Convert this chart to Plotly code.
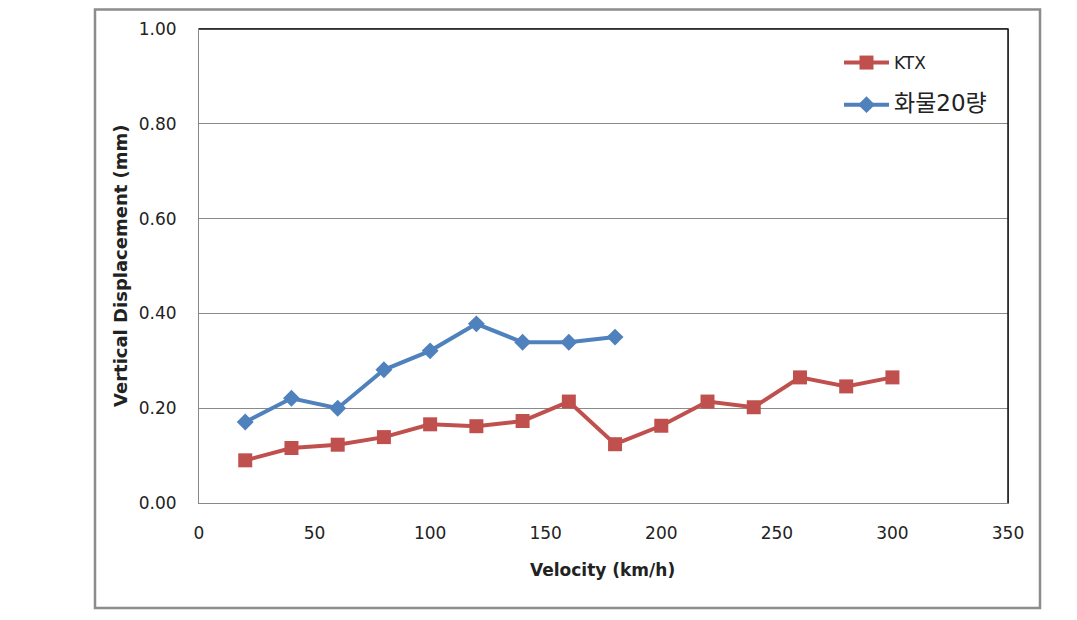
import plotly.graph_objects as go

velocity_ktx = [20, 40, 60, 80, 100, 120, 140, 160, 180, 200, 220, 240, 260, 280, 300]
disp_ktx = [0.090, 0.116, 0.123, 0.139, 0.166, 0.162, 0.173, 0.214, 0.124, 0.163, 0.214, 0.202, 0.265, 0.246, 0.265]

velocity_freight = [20, 40, 60, 80, 100, 120, 140, 160, 180]
disp_freight = [0.171, 0.221, 0.200, 0.281, 0.321, 0.378, 0.339, 0.339, 0.350]

x_ticks = [0, 50, 100, 150, 200, 250, 300, 350]
y_ticks = [0.0, 0.2, 0.4, 0.6, 0.8, 1.0]
y_tick_labels = ["0.00", "0.20", "0.40", "0.60", "0.80", "1.00"]

FONT = "DejaVu Sans, Noto Sans CJK KR, sans-serif"
RED = "#C0504D"
BLUE = "#4F81BD"

fig = go.Figure()
fig.add_trace(go.Scatter(
    x=velocity_ktx, y=disp_ktx, mode="lines+markers", name="KTX",
    legendgroup="a",
    line=dict(color=RED, width=4),
    marker=dict(symbol="square", size=14, color=RED),
))
fig.add_trace(go.Scatter(
    x=velocity_freight, y=disp_freight, mode="lines+markers",
    name='<span style="font-size:23px">화물20량</span>',
    legendgroup="b",
    line=dict(color=BLUE, width=4),
    marker=dict(symbol="diamond", size=13, color=BLUE),
))

OFF = 8  # page body margin
W, H = 1077, 620
PL, PR, PT, PB = 199, 1008, 29, 503  # plot area in page pixels
L = PL - OFF
T = PT - OFF
R = W - (PR - OFF)
B = H - (PB - OFF)
pw = PR - PL
ph = PB - PT

def px(xp):
    return (xp - PL) / pw

def py(yp):
    return (PB - yp) / ph

fig.update_layout(
    width=W, height=H,
    margin=dict(l=L, r=R, t=T, b=B, autoexpand=False),
    paper_bgcolor="white", plot_bgcolor="white",
    font=dict(family=FONT, color="#222"),
    showlegend=True,
    legend=dict(
        x=px(839), y=py(45), xanchor="left", yanchor="top",
        bgcolor="rgba(0,0,0,0)", font=dict(size=17, family=FONT, color="#222"),
        traceorder="grouped", tracegroupgap=17, itemwidth=45,
    ),
    xaxis=dict(
        range=[0, 350], tickvals=x_ticks, ticktext=[str(v) for v in x_ticks],
        showgrid=False, zeroline=False,
        showline=True, linecolor="#888", linewidth=1, mirror=True,
        ticks="outside", ticklen=15, tickcolor="rgba(0,0,0,0)",
        tickfont=dict(size=17, family=FONT, color="#222"),
    ),
    yaxis=dict(
        range=[0, 1.0], tickvals=y_ticks, ticktext=y_tick_labels,
        showgrid=True, gridcolor="#8a8a8a", gridwidth=1, zeroline=False,
        showline=True, linecolor="#888", linewidth=1, mirror=True,
        ticks="outside", ticklen=18, tickcolor="rgba(0,0,0,0)",
        tickfont=dict(size=17, family=FONT, color="#222"),
    ),
    shapes=[
        dict(type="rect", xref="paper", yref="paper",
             x0=px(95), x1=px(1040), y0=py(608), y1=py(9.5),
             line=dict(color="#8c8c8c", width=2.5), fillcolor="rgba(0,0,0,0)", layer="below"),
        dict(type="line", xref="paper", yref="paper",
             x0=0, x1=1, y0=1, y1=1, line=dict(color="#111", width=1.5)),
        dict(type="line", xref="paper", yref="paper",
             x0=1, x1=1, y0=0, y1=1, line=dict(color="#111", width=1.5)),
    ],
    annotations=[
        dict(text="<b>Velocity (km/h)</b>", xref="paper", yref="paper",
             x=px(602), y=py(570), xanchor="center", yanchor="middle", showarrow=False,
             font=dict(size=17, family=FONT, color="#222")),
        dict(text="<b>Vertical Displacement (mm)</b>", xref="paper", yref="paper",
             x=px(120), y=py(266), xanchor="center", yanchor="middle", showarrow=False,
             textangle=-90,
             font=dict(size=18, family=FONT, color="#222")),
    ],
)

fig.write_html("out.html")
